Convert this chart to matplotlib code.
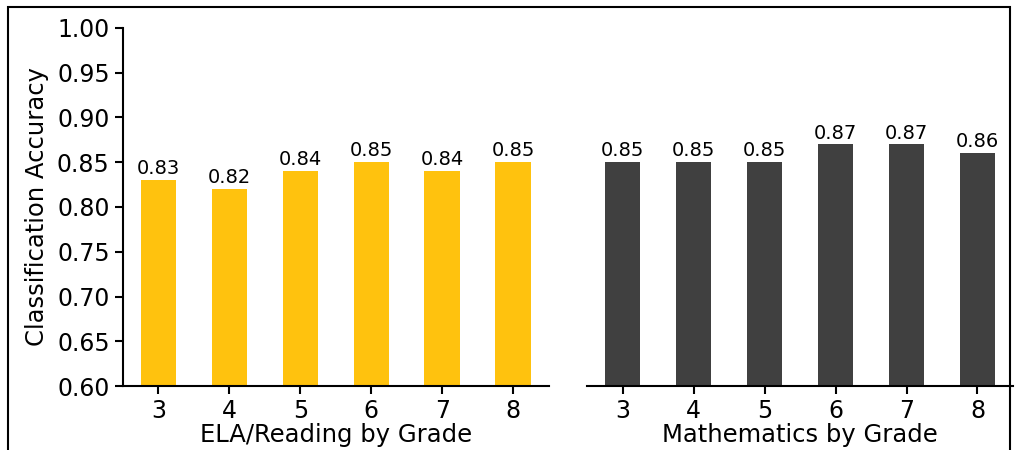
import matplotlib

matplotlib.use("Agg")
import matplotlib.pyplot as plt
from matplotlib.patches import Rectangle

grades = [3, 4, 5, 6, 7, 8]
ela_acc = [0.83, 0.82, 0.84, 0.85, 0.84, 0.85]
math_acc = [0.85, 0.85, 0.85, 0.87, 0.87, 0.86]
y_ticks = [0.60, 0.65, 0.70, 0.75, 0.80, 0.85, 0.90, 0.95, 1.00]

ELA_COLOR = "#FFC20E"
MATH_COLOR = "#404040"

fig = plt.figure(figsize=(10.16, 4.5), dpi=100)
ax1 = fig.add_axes([0.121, 0.142, 0.419, 0.796])
ax2 = fig.add_axes([0.578, 0.142, 0.419, 0.796], sharey=ax1)

panels = [
    (ax1, ela_acc, ELA_COLOR, "ELA/Reading by Grade"),
    (ax2, math_acc, MATH_COLOR, "Mathematics by Grade"),
]
for ax, vals, color, label in panels:
    bars = ax.bar(grades, vals, width=0.5, color=color)
    for b, v in zip(bars, vals):
        ax.text(b.get_x() + b.get_width() / 2, v + 0.002, f"{v:.2f}",
                ha="center", va="bottom", fontsize=14)
    ax.set_xlim(2.5, 8.5)
    ax.set_xticks(grades)
    ax.set_xlabel(label, fontsize=17.5, labelpad=0)
    ax.tick_params(labelsize=17, width=1.5, length=6)
    ax.tick_params(axis="x", pad=3)
    for side in ("top", "right"):
        ax.spines[side].set_visible(False)
    ax.spines["left"].set_linewidth(1.5)
    ax.spines["bottom"].set_linewidth(1.5)

ax1.set_ylim(0.60, 1.00)
ax1.set_yticks(y_ticks)
ax1.set_ylabel("Classification Accuracy", fontsize=17.5, labelpad=6)
ax2.spines["left"].set_visible(False)
ax2.tick_params(axis="y", left=False, labelleft=False)

# outer frame around the figure
fig.patches.append(Rectangle((8 / 1016, -0.1), 1002 / 1016, 1.1 - 7 / 450,
                             transform=fig.transFigure, fill=False,
                             edgecolor="black", linewidth=1.5))

fig.savefig("out.png", dpi=100)
plt.close(fig)
